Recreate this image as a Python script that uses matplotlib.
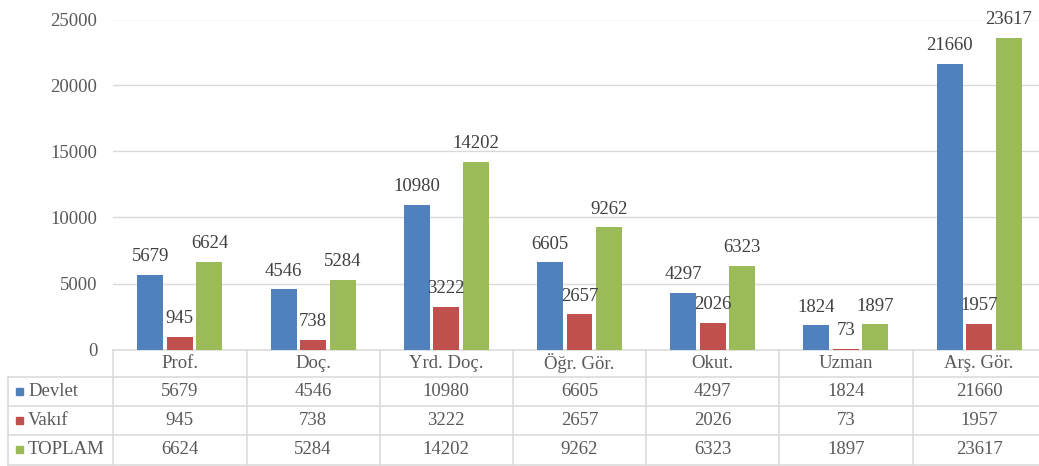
import matplotlib.pyplot as plt
from matplotlib.transforms import blended_transform_factory
from matplotlib.lines import Line2D
from matplotlib.patches import Rectangle

plt.rcParams['font.family'] = ['Liberation Serif', 'DejaVu Serif']

kategoriler = ['Prof.', 'Doç.', 'Yrd. Doç.', 'Öğr. Gör.', 'Okut.', 'Uzman', 'Arş. Gör.']
devlet = [5679, 4546, 10980, 6605, 4297, 1824, 21660]
vakif = [945, 738, 3222, 2657, 2026, 73, 1957]
toplam = [6624, 5284, 14202, 9262, 6323, 1897, 23617]
seri_adlari = ['Devlet', 'Vakıf', 'TOPLAM']
renkler = ['#4F81BD', '#C0504D', '#9BBB59']
yticks = [0, 5000, 10000, 15000, 20000, 25000]

W, H = 1039, 466
fig = plt.figure(figsize=(W / 100, H / 100), dpi=100)

# plot area in pixels (the last table column runs a little past the image)
x0, x1 = 113.3, 1045.7
y0, y1 = 349.5, 19.5
ax = fig.add_axes([x0 / W, (H - y0) / H, (x1 - x0) / W, (y0 - y1) / H])

n = len(kategoriler)
xs = list(range(n))
genislik = 0.195
adim = 0.222
text_renk = '#404040'
tablo_renk = '#595959'
cizgi = '#d9d9d9'
fs = 13.5

for k, (seri, renk) in enumerate(zip([devlet, vakif, toplam], renkler)):
    pos = [x + (k - 1) * adim for x in xs]
    bars = ax.bar(pos, seri, width=genislik, color=renk, zorder=3)
    for b, v in zip(bars, seri):
        ax.annotate(str(v), (b.get_x() + b.get_width() / 2, v),
                    xytext=(0, 7), textcoords='offset points',
                    ha='center', va='bottom', fontsize=fs, color=text_renk, zorder=4)

ax.set_xlim(-0.5, n - 0.5)
ax.set_ylim(0, 25000)
ax.set_yticks(yticks)
ax.set_xticks([])
ax.tick_params(axis='y', length=0, pad=11.5, labelsize=fs, labelcolor=tablo_renk)
for s in ax.spines.values():
    s.set_visible(False)
for t in yticks[1:]:
    ax.axhline(t, color=cizgi, lw=1.0, zorder=1)


# data table under the plot
def ay(ypx):
    return (y0 - ypx) / (y0 - y1)


def ax_px(xpx):
    return (xpx - x0) / (x1 - x0)


tr = blended_transform_factory(ax.transData, ax.transAxes)
satirlar = [349.5, 376.5, 405.5, 435, 464.5]
sol = ax_px(8.3)
lw = 1.1

# horizontal lines
ax.add_line(Line2D([0, 1], [ay(satirlar[0])] * 2, transform=ax.transAxes,
                   color=cizgi, lw=lw, clip_on=False))
for ypx in satirlar[1:]:
    ax.add_line(Line2D([sol, 1], [ay(ypx)] * 2, transform=ax.transAxes,
                       color=cizgi, lw=lw, clip_on=False))
# vertical lines
for i in range(n + 1):
    ax.add_line(Line2D([i - 0.5, i - 0.5], [ay(satirlar[0]), ay(satirlar[-1])],
                       transform=tr, color=cizgi, lw=lw, clip_on=False))
ax.add_line(Line2D([sol, sol], [ay(satirlar[1]), ay(satirlar[-1])],
                   transform=ax.transAxes, color=cizgi, lw=lw, clip_on=False))

# header
yh = ay((satirlar[0] + satirlar[1]) / 2)
for i, kat in enumerate(kategoriler):
    ax.text(i, yh, kat, transform=tr, ha='center', va='center',
            fontsize=fs, color=tablo_renk)

# rows
for r, (ad, seri, renk) in enumerate(zip(seri_adlari, [devlet, vakif, toplam], renkler)):
    ym = ay((satirlar[r + 1] + satirlar[r + 2]) / 2)
    ax.add_patch(Rectangle((ax_px(16), ym - 3.5 / (y0 - y1)), 7 / (x1 - x0), 7 / (y0 - y1),
                           transform=ax.transAxes, color=renk, clip_on=False))
    ax.text(ax_px(28), ym, ad, transform=ax.transAxes, ha='left', va='center',
            fontsize=fs, color=tablo_renk)
    for i, v in enumerate(seri):
        ax.text(i, ym, str(v), transform=tr, ha='center', va='center',
                fontsize=fs, color=tablo_renk)

fig.savefig('out.png', dpi=100)
